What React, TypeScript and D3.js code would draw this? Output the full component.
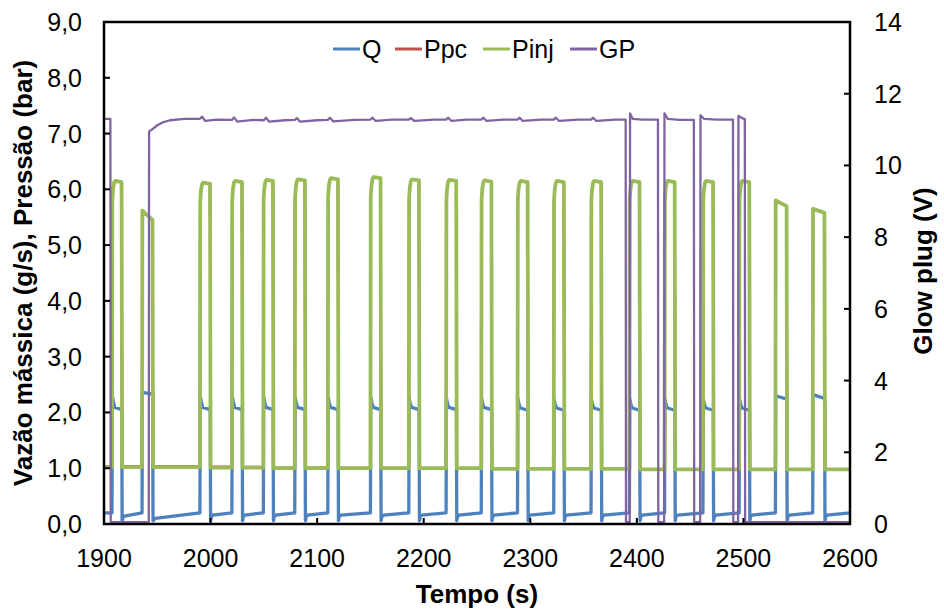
import React from "react";
import * as d3 from "d3";

// ---- data ----
const xTicks = [1900, 2000, 2100, 2200, 2300, 2400, 2500, 2600];
const yLeftTicks = [0, 1, 2, 3, 4, 5, 6, 7, 8, 9];
const yRightTicks = [0, 2, 4, 6, 8, 10, 12, 14];
const seriesNames = ["Q", "Ppc", "Pinj", "GP"];

// injection pulses (s)
const pulseStart = [1907.5, 1935.7, 1990, 2020, 2049.5, 2079, 2110, 2150, 2186, 2221, 2254, 2288, 2322, 2357, 2393, 2426, 2462, 2496, 2530, 2565];
const pulseEnd = [1917, 1946, 2000, 2030, 2059, 2089, 2120, 2160, 2196, 2231, 2264, 2298, 2332, 2367, 2403, 2436, 2472, 2506, 2541, 2576.5];
// Pinj plateau values (bar) at start / end of plateau
const pinjPeakA = [6.15, 5.62, 6.12, 6.15, 6.17, 6.18, 6.2, 6.22, 6.18, 6.17, 6.16, 6.15, 6.15, 6.15, 6.15, 6.15, 6.15, 6.15, 5.8, 5.65];
const pinjPeakB = [6.13, 5.45, 6.1, 6.13, 6.15, 6.16, 6.18, 6.2, 6.16, 6.15, 6.14, 6.13, 6.13, 6.13, 6.13, 6.13, 6.13, 6.13, 5.7, 5.58];
const pinjRounded = [1, 0, 1, 1, 1, 1, 1, 1, 1, 1, 1, 1, 1, 1, 1, 1, 1, 1, 0, 0];
// baseline pressure after each pulse (bar)
const pinjBase = [1.02, 1.02, 1.01, 1.01, 1.0, 1.0, 1.0, 1.0, 1.0, 1.0, 0.99, 0.99, 0.99, 0.99, 0.98, 0.98, 0.98, 0.98, 0.98, 0.98];
const ppcBase = [1.035, 1.035, 1.025, 1.02, 1.01, 1.01, 1.005, 1.005, 1.0, 1.0, 0.99, 0.99, 0.99, 0.99, 0.98, 0.98, 0.98, 0.98, 0.98, 0.98];
// mass flow Q (g/s) during pulses
const qHighA = [2.3, 2.36, 2.3, 2.3, 2.28, 2.28, 2.28, 2.28, 2.26, 2.26, 2.26, 2.26, 2.25, 2.25, 2.25, 2.25, 2.25, 2.25, 2.3, 2.32];
const qHighB = [2.05, 2.33, 2.05, 2.05, 2.05, 2.05, 2.05, 2.05, 2.05, 2.05, 2.05, 2.04, 2.04, 2.04, 2.04, 2.04, 2.04, 2.04, 2.24, 2.25];
const qLowDip = [0.06, 0.06, 0.06, 0.06, 0.06, 0.06, 0.06, 0.06, 0.06, 0.06, 0.06, 0.06, 0.06, 0.06, 0.06, 0.06, 0.06, 0.06, 0.06, 0.06];
const qLowMid = [0.14, 0.1, 0.16, 0.16, 0.16, 0.16, 0.16, 0.16, 0.16, 0.16, 0.16, 0.16, 0.16, 0.16, 0.16, 0.16, 0.16, 0.16, 0.16, 0.16];
const qLowEnd = 0.2;

// glow plug voltage (V) : [time, value]
const gpPoints: [number, number][] = [
  [1900, 11.3], [1906, 11.3], [1906.3, 0.05], [1942, 0.05], [1942.3, 10.95], [1945, 11.0], [1950, 11.12], [1955, 11.2],
  [1962, 11.26], [1975, 11.3], [1990, 11.3], [1992, 11.36], [1995, 11.24], [2005, 11.28], [2020, 11.27], [2022, 11.34],
  [2025, 11.22], [2040, 11.27], [2050, 11.26], [2052, 11.33], [2055, 11.22], [2070, 11.26], [2079, 11.27], [2081, 11.32],
  [2084, 11.22], [2100, 11.26], [2110, 11.27], [2112, 11.33], [2115, 11.23], [2135, 11.27], [2150, 11.28], [2152, 11.33],
  [2155, 11.24], [2170, 11.28], [2186, 11.28], [2188, 11.32], [2191, 11.24], [2210, 11.28], [2221, 11.28], [2223, 11.33],
  [2226, 11.24], [2240, 11.28], [2254, 11.28], [2256, 11.33], [2259, 11.24], [2275, 11.28], [2288, 11.28], [2290, 11.33],
  [2293, 11.24], [2310, 11.28], [2322, 11.28], [2324, 11.33], [2327, 11.24], [2345, 11.28], [2357, 11.28], [2359, 11.33],
  [2362, 11.24], [2380, 11.28], [2389.5, 11.28], [2389.8, 0.05], [2393.3, 0.05], [2393.6, 11.45], [2396, 11.3],
  [2405, 11.28], [2419.8, 11.28], [2420.1, 0.05], [2425.6, 0.05], [2425.9, 11.45], [2429, 11.3], [2440, 11.27],
  [2453.5, 11.27], [2453.8, 0.05], [2459.4, 0.05], [2459.7, 11.4], [2463, 11.3], [2475, 11.28], [2490.2, 11.28],
  [2490.5, 0.05], [2495, 0.05], [2495.3, 11.38], [2500, 11.3], [2501.3, 11.3], [2501.6, 0.05], [2600, 0.05],
];

const colors = { Q: "#4F81BD", Ppc: "#C0504D", Pinj: "#9BBB59", GP: "#8064A2" };

// ---- build series from the pulse tables ----
function buildPressure(base: number[], startBase: number): [number, number][] {
  const pts: [number, number][] = [[1900, startBase]];
  pulseStart.forEach((s, i) => {
    const e = pulseEnd[i];
    const prevBase = i === 0 ? startBase : base[i - 1];
    const a = pinjPeakA[i];
    const b = pinjPeakB[i];
    pts.push([s, prevBase]);
    if (pinjRounded[i]) {
      pts.push([s + 0.3, a - 0.35]);
      pts.push([s + 1.0, a - 0.14]);
      pts.push([s + 2.0, a - 0.03]);
      pts.push([s + 3.0, a]);
    } else {
      pts.push([s + 0.3, a]);
    }
    pts.push([e - 0.5, b]);
    pts.push([e, base[i]]);
  });
  pts.push([2600, base[base.length - 1]]);
  return pts;
}

function buildQ(): [number, number][] {
  const pts: [number, number][] = [[1900, qLowEnd]];
  pulseStart.forEach((s, i) => {
    const e = pulseEnd[i];
    pts.push([s, qLowEnd]);
    pts.push([s + 0.3, qHighA[i]]);
    if (qHighA[i] - qHighB[i] > 0.1) {
      pts.push([s + 1.3, qHighA[i] - 0.1]);
      pts.push([s + 2.6, qHighB[i] + 0.04]);
    }
    pts.push([e - 0.3, qHighB[i]]);
    pts.push([e, qLowDip[i]]);
    pts.push([e + 0.8, qLowMid[i] - 0.03]);
    pts.push([e + 2.0, qLowMid[i]]);
  });
  pts.push([2600, qLowEnd]);
  return pts;
}

const W = 944;
const H = 614;
const L = 104, R = 850, T = 22, B = 524;

export default function App() {
  const x = d3.scaleLinear().domain([1900, 2600]).range([L, R]);
  const yL = d3.scaleLinear().domain([0, 9]).range([B, T]);
  const yR = d3.scaleLinear().domain([0, 14]).range([B, T]);

  const lineL = d3.line<[number, number]>().x((d) => x(d[0])).y((d) => yL(d[1]));
  const lineR = d3.line<[number, number]>().x((d) => x(d[0])).y((d) => yR(d[1]));

  const qData = buildQ();
  const ppcData = buildPressure(ppcBase, 1.035);
  const pinjData = buildPressure(pinjBase, 1.02);

  const font = "'Liberation Sans', Arial, sans-serif";
  const legendX = [333, 395, 483, 570];

  return (
    <svg width={W} height={H} style={{ position: "absolute", left: 0, top: 0, background: "#fff" }} fontFamily={font}>
      <defs>
        <clipPath id="plot">
          <rect x={L} y={T - 2} width={R - L} height={B - T + 4} />
        </clipPath>
      </defs>
      <rect x={0} y={0} width={W} height={H} fill="#fff" />
      <g clipPath="url(#plot)" fill="none" strokeLinejoin="round">
        <path d={lineL(qData) || ""} stroke={colors.Q} strokeWidth={3.3} />
        <path d={lineL(ppcData) || ""} stroke={colors.Ppc} strokeWidth={2.5} />
        <path d={lineL(pinjData) || ""} stroke={colors.Pinj} strokeWidth={3.8} />
        <path d={lineR(gpPoints) || ""} stroke={colors.GP} strokeWidth={2.3} />
      </g>
      {/* frame */}
      <rect x={L} y={T} width={R - L} height={B - T} fill="none" stroke="#000" strokeWidth={2.5} />
      {/* left ticks */}
      {yLeftTicks.map((v) => (
        <g key={"l" + v}>
          <line x1={L} x2={L + 6} y1={yL(v)} y2={yL(v)} stroke="#000" strokeWidth={2} />
          <text x={82} y={yL(v) + 9} fontSize={25} textAnchor="end" fill="#000">
            {v.toFixed(1).replace(".", ",")}
          </text>
        </g>
      ))}
      {/* right ticks */}
      {yRightTicks.map((v) => (
        <g key={"r" + v}>
          <line x1={R - 6} x2={R} y1={yR(v)} y2={yR(v)} stroke="#000" strokeWidth={2} />
          <text x={874} y={yR(v) + 9} fontSize={25} textAnchor="start" fill="#000">
            {v}
          </text>
        </g>
      ))}
      {/* x ticks */}
      {xTicks.map((v) => (
        <g key={"x" + v}>
          <line x1={x(v)} x2={x(v)} y1={B} y2={B - 6} stroke="#000" strokeWidth={2} />
          <text x={x(v)} y={567} fontSize={25} textAnchor="middle" fill="#000">
            {v}
          </text>
        </g>
      ))}
      {/* axis titles */}
      <text x={477} y={603} fontSize={26} fontWeight="bold" textAnchor="middle">Tempo (s)</text>
      <text transform={`translate(32,273) rotate(-90)`} fontSize={26} fontWeight="bold" textAnchor="middle">
        Vazão mássica (g/s), Pressão (bar)
      </text>
      <text transform={`translate(932,271) rotate(-90)`} fontSize={26} fontWeight="bold" textAnchor="middle">
        Glow plug (V)
      </text>
      {/* legend */}
      {seriesNames.map((n, i) => (
        <g key={n}>
          <line x1={legendX[i]} x2={legendX[i] + 27} y1={49} y2={49} stroke={(colors as any)[n]} strokeWidth={3} />
          <text x={legendX[i] + 29} y={58} fontSize={25} fill="#000">{n}</text>
        </g>
      ))}
    </svg>
  );
}
